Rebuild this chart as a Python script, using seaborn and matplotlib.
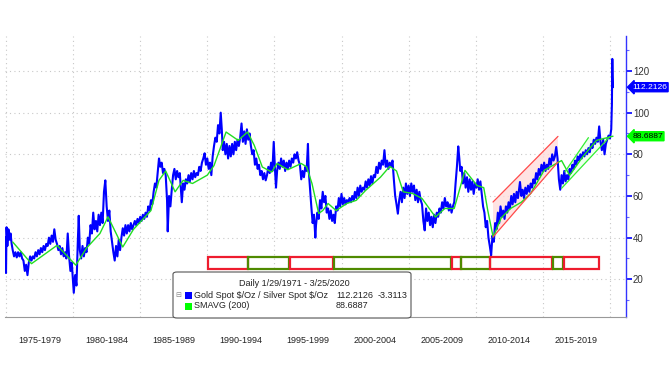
import matplotlib
matplotlib.use('Agg')
import matplotlib.pyplot as plt
import matplotlib.transforms as mtransforms
from matplotlib.patches import Rectangle, Polygon, FancyBboxPatch
import numpy as np
import pandas as pd
import seaborn as sns

# gold / silver ratio (year, value)
ratio_year = [
    1974.95, 1975.00, 1975.04, 1975.10, 1975.18, 1975.26, 1975.34, 1975.42, 1975.50, 1975.60,
    1975.70, 1975.80, 1975.90, 1976.00, 1976.10, 1976.20, 1976.30, 1976.40, 1976.50, 1976.60,
    1976.70, 1976.80, 1976.90, 1977.00, 1977.10, 1977.20, 1977.30, 1977.40, 1977.50, 1977.60,
    1977.70, 1977.80, 1977.90, 1978.00, 1978.10, 1978.20, 1978.30, 1978.40, 1978.50, 1978.60,
    1978.70, 1978.80, 1978.90, 1979.00, 1979.10, 1979.20, 1979.30, 1979.40, 1979.50, 1979.60,
    1979.70, 1979.80, 1979.90, 1980.00, 1980.05, 1980.15, 1980.25, 1980.35, 1980.42, 1980.50,
    1980.60, 1980.70, 1980.80, 1980.90, 1981.00, 1981.10, 1981.20, 1981.30, 1981.40, 1981.50,
    1981.60, 1981.70, 1981.80, 1981.90, 1982.00, 1982.10, 1982.20, 1982.30, 1982.40, 1982.50,
    1982.60, 1982.70, 1982.80, 1982.90, 1983.00, 1983.10, 1983.20, 1983.30, 1983.40, 1983.50,
    1983.60, 1983.70, 1983.80, 1983.90, 1984.00, 1984.10, 1984.20, 1984.30, 1984.40, 1984.50,
    1984.60, 1984.70, 1984.80, 1984.90, 1985.00, 1985.10, 1985.20, 1985.30, 1985.40, 1985.50,
    1985.60, 1985.70, 1985.80, 1985.90, 1986.00, 1986.10, 1986.20, 1986.30, 1986.40, 1986.50,
    1986.60, 1986.70, 1986.80, 1986.90, 1987.00, 1987.05, 1987.15, 1987.25, 1987.35, 1987.45,
    1987.55, 1987.65, 1987.75, 1987.85, 1987.95, 1988.05, 1988.10, 1988.20, 1988.30, 1988.40,
    1988.50, 1988.60, 1988.70, 1988.80, 1988.90, 1989.00, 1989.10, 1989.20, 1989.30, 1989.40,
    1989.50, 1989.60, 1989.70, 1989.80, 1989.90, 1990.00, 1990.10, 1990.20, 1990.30, 1990.40,
    1990.50, 1990.60, 1990.70, 1990.80, 1990.90, 1991.00, 1991.08, 1991.15, 1991.25, 1991.35,
    1991.45, 1991.55, 1991.65, 1991.75, 1991.85, 1991.95, 1992.05, 1992.15, 1992.25, 1992.35,
    1992.45, 1992.55, 1992.65, 1992.75, 1992.85, 1992.95, 1993.05, 1993.15, 1993.25, 1993.35,
    1993.45, 1993.55, 1993.65, 1993.75, 1993.85, 1993.95, 1994.05, 1994.15, 1994.25, 1994.35,
    1994.45, 1994.55, 1994.65, 1994.75, 1994.85, 1994.95, 1995.05, 1995.12, 1995.20, 1995.30,
    1995.40, 1995.50, 1995.60, 1995.70, 1995.80, 1995.90, 1996.00, 1996.10, 1996.20, 1996.30,
    1996.40, 1996.50, 1996.60, 1996.70, 1996.80, 1996.90, 1997.00, 1997.10, 1997.20, 1997.30,
    1997.40, 1997.50, 1997.55, 1997.65, 1997.75, 1997.85, 1997.95, 1998.05, 1998.10, 1998.20,
    1998.30, 1998.40, 1998.50, 1998.60, 1998.70, 1998.80, 1998.90, 1999.00, 1999.10, 1999.20,
    1999.30, 1999.40, 1999.50, 1999.60, 1999.70, 1999.80, 1999.90, 2000.00, 2000.10, 2000.20,
    2000.30, 2000.40, 2000.50, 2000.60, 2000.70, 2000.80, 2000.90, 2001.00, 2001.10, 2001.20,
    2001.30, 2001.40, 2001.50, 2001.60, 2001.70, 2001.80, 2001.90, 2002.00, 2002.10, 2002.20,
    2002.30, 2002.40, 2002.50, 2002.60, 2002.70, 2002.80, 2002.90, 2003.00, 2003.10, 2003.20,
    2003.30, 2003.40, 2003.50, 2003.60, 2003.70, 2003.80, 2003.90, 2004.00, 2004.10, 2004.20,
    2004.30, 2004.40, 2004.50, 2004.60, 2004.70, 2004.80, 2004.90, 2005.00, 2005.10, 2005.20,
    2005.30, 2005.40, 2005.50, 2005.60, 2005.70, 2005.80, 2005.90, 2006.00, 2006.10, 2006.20,
    2006.30, 2006.40, 2006.50, 2006.60, 2006.70, 2006.80, 2006.90, 2007.00, 2007.10, 2007.20,
    2007.30, 2007.40, 2007.50, 2007.60, 2007.70, 2007.80, 2007.90, 2008.00, 2008.10, 2008.20,
    2008.30, 2008.40, 2008.50, 2008.60, 2008.70, 2008.78, 2008.85, 2008.95, 2009.05, 2009.15,
    2009.25, 2009.35, 2009.45, 2009.55, 2009.65, 2009.75, 2009.85, 2009.95, 2010.05, 2010.15,
    2010.25, 2010.35, 2010.45, 2010.55, 2010.65, 2010.75, 2010.85, 2010.95, 2011.05, 2011.15,
    2011.25, 2011.35, 2011.45, 2011.55, 2011.65, 2011.75, 2011.85, 2011.95, 2012.05, 2012.15,
    2012.25, 2012.35, 2012.45, 2012.55, 2012.65, 2012.75, 2012.85, 2012.95, 2013.05, 2013.15,
    2013.30, 2013.40, 2013.50, 2013.60, 2013.70, 2013.80, 2013.90, 2014.00, 2014.10, 2014.20,
    2014.30, 2014.40, 2014.50, 2014.60, 2014.70, 2014.80, 2014.90, 2015.00, 2015.10, 2015.20,
    2015.30, 2015.40, 2015.50, 2015.60, 2015.70, 2015.80, 2015.90, 2016.00, 2016.10, 2016.20,
    2016.30, 2016.40, 2016.50, 2016.60, 2016.70, 2016.80, 2016.90, 2017.00, 2017.10, 2017.20,
    2017.30, 2017.40, 2017.50, 2017.60, 2017.70, 2017.80, 2017.90, 2018.00, 2018.10, 2018.20,
    2018.30, 2018.40, 2018.50, 2018.60, 2018.70, 2018.80, 2018.90, 2019.00, 2019.10, 2019.20,
    2019.30, 2019.40, 2019.50, 2019.60, 2019.70, 2019.80, 2019.90, 2020.00, 2020.05, 2020.10,
    2020.15, 2020.18, 2020.20, 2020.23,
]
ratio_value = [
    40, 23, 45, 36, 44, 39, 42, 37, 34, 31,
    33, 30.5, 33, 31, 33, 30, 29, 24, 27, 22,
    28, 31, 29, 31, 30, 33, 31, 34, 32, 35,
    33, 36, 34, 37, 36, 40, 37, 41, 38, 44,
    39, 37, 34, 36, 32, 35, 31, 33, 30, 42,
    31, 24, 28, 18, 13.5, 22, 17, 38, 50.5, 34,
    30, 36, 31, 35, 33, 40, 37, 46, 42, 52,
    44, 48, 43, 51, 46, 52, 47, 62, 67.5, 55,
    48, 53, 43, 38, 33, 29, 36, 31, 39, 34,
    40, 44.5, 41, 46, 42, 46, 43, 47, 44, 46,
    48, 46, 49, 47, 50, 48, 51, 49, 52, 50,
    55, 53, 58, 56, 62, 66, 64, 71, 78, 74,
    76, 71, 73, 70, 58, 43, 60, 55, 63, 70,
    73, 68, 72, 69, 71, 62, 57, 66, 63, 68,
    66, 70, 67, 71, 68, 72, 69, 71, 70, 74,
    72, 76, 78, 80.5, 75, 78, 73, 76, 70, 79,
    84, 88, 86, 94, 90, 100, 92, 82, 86, 80,
    85, 78, 84, 79, 85, 80, 86, 82, 87, 84,
    88, 94.8, 86, 91, 85, 92, 87, 90, 84, 80,
    82, 75, 78, 73, 75, 70, 72, 68, 71, 67.5,
    70, 74, 71, 76, 72, 86, 72, 64, 72, 76,
    73, 78, 74, 77, 72, 76, 73, 77, 74, 78,
    76, 80, 78, 81, 77, 75, 68, 72, 69, 74,
    72, 85, 73, 64, 55, 47, 51, 40, 46, 52,
    49, 58, 54, 62, 57, 60, 52, 54, 49, 53,
    48, 51, 47, 55, 53, 59, 55, 61, 56, 59,
    56, 58, 57, 59, 57, 60, 58, 62, 59, 64,
    60, 65, 62, 64, 63, 67, 64, 68, 65, 69.5,
    66, 70, 69, 74, 71, 76, 73, 77, 75, 82,
    74, 77, 73, 76, 74, 77, 68, 60, 56, 51.5,
    58, 62, 57, 64, 59, 66, 61, 65, 60, 66,
    62, 65, 58, 63, 57, 62, 58, 56, 48, 43.5,
    54, 48, 52, 46, 50, 45, 51, 47, 52, 50,
    54, 52, 57, 54, 59, 55, 57, 53, 56, 52,
    55, 57, 66, 74, 83.8, 78, 72, 74, 66, 71,
    64, 69, 62, 68, 63, 67, 61, 66, 64, 68,
    63, 67, 61, 55, 52, 45, 48, 40, 36, 31.5,
    41, 38, 47, 44, 52, 47, 55, 50, 53, 49,
    55, 52, 57, 54, 60, 56, 61, 57, 62, 59,
    66.7, 60, 63, 59, 64, 61, 65, 62, 66, 64,
    68, 66, 71, 68, 73, 70, 75, 72, 76, 72,
    75, 73, 78, 75, 80, 77, 79, 83.5, 78, 68,
    63, 70, 66, 72, 67, 70, 68, 73, 71, 75,
    73, 77, 75, 79, 77, 80, 78, 81, 79, 82,
    80, 83, 81, 85, 83, 87, 85, 88, 86, 93.4,
    86, 82, 87, 80, 85, 87, 89, 87.6, 90, 92,
    104, 125.8, 118, 112.2126,
]

# 200-day moving average
sma_year = [
    1975.5, 1976.9, 1978.8, 1980.2, 1981.0, 1982.0, 1982.6, 1983.7, 1984.5, 1985.8,
    1986.4, 1986.9, 1987.6, 1988.2, 1988.9, 1990.0, 1990.5, 1991.4, 1992.3, 1993.0,
    1993.5, 1994.1, 1994.8, 1995.2, 1996.0, 1997.0, 1997.4, 1997.8, 1998.3, 1998.6,
    1999.0, 1999.6, 2000.4, 2001.1, 2001.8, 2002.9, 2003.6, 2004.1, 2004.6, 2005.3,
    2006.0, 2007.0, 2007.7, 2008.4, 2009.2, 2010.1, 2010.6, 2010.9, 2011.3, 2011.9,
    2012.6, 2013.4, 2014.1, 2015.1, 2016.2, 2016.4, 2017.0, 2018.0, 2019.0, 2020.23,
]
sma_value = [
    37.9, 27.5, 36.3, 26.8, 35, 42, 50, 35.5, 44, 53,
    67.5, 72, 62, 67.5, 66, 70, 74.6, 90.7, 86.7, 90.7,
    84.3, 73.9, 71.5, 75.6, 72.6, 75.6, 74, 66, 51.6, 53,
    56.4, 53, 56.4, 57.9, 62.7, 69, 74.2, 72, 62, 61.2,
    58.8, 49.9, 54, 54, 72.3, 65, 64, 53, 40.3, 49.5,
    54, 57, 61.2, 72.3, 76.3, 77, 69.9, 79, 86.7, 88.6887,
]

period_labels = ['1975-1979', '1980-1984', '1985-1989', '1990-1994', '1995-1999',
                 '2000-2004', '2005-2009', '2010-2014', '2015-2019']
period_starts = [1975, 1980, 1985, 1990, 1995, 2000, 2005, 2010, 2015]

# coloured regime boxes along the bottom (start, end, kind)
box_start = [1990.07, 1993.05, 1996.15, 1999.42, 2008.2, 2008.9, 2011.1, 2015.74, 2016.57]
box_end = [1993.0, 1996.08, 1999.36, 2008.16, 2008.87, 2011.05, 2015.71, 2016.53, 2019.22]
box_kind = ['red', 'green', 'red', 'green', 'red', 'green', 'red', 'green', 'red']

# trend channels (x0, x1, y0, y1)
red_lower = [2011.29, 2016.13, 40.3, 76.3]
red_upper = [2011.29, 2016.13, 57.1, 88.6]
green_lower = [2016.4, 2020.0, 63.7, 88.5]
green_upper = [2016.65, 2018.4, 71.6, 88.0]

last_ratio = 112.2126
last_chg = -3.3113
last_sma = 88.6887

sns.set_style('white')
plt.rcParams['font.family'] = ['Liberation Sans', 'DejaVu Sans']

fig = plt.figure(figsize=(6.7, 3.77), dpi=100)
ax = fig.add_axes([5 / 670, 1 - 317 / 377, 621 / 670, 281 / 377])

df = pd.DataFrame({'year': ratio_year, 'ratio': ratio_value})
sma = pd.DataFrame({'year': sma_year, 'sma': sma_value})
sns.lineplot(data=sma, x='year', y='sma', ax=ax, color='#22dd22', lw=1.0, zorder=4)
sns.lineplot(data=df, x='year', y='ratio', ax=ax, color='#0000ff', lw=1.5,
             estimator=None, sort=False, zorder=3)

ax.set_xlim(1974.925, 2021.2)
ax.set_ylim(1.9, 136.8)
ax.set_xlabel('')
ax.set_ylabel('')

# channels
ax.add_patch(Polygon([[red_lower[0], red_lower[2]], [red_lower[1], red_lower[3]],
                      [red_upper[1], red_upper[3]], [red_upper[0], red_upper[2]]],
                     closed=True, fc='#ffdcdc', ec='none', alpha=0.8, zorder=2))
ax.plot(red_lower[:2], red_lower[2:], color='#ff4a4a', lw=0.9, zorder=5)
ax.plot(red_upper[:2], red_upper[2:], color='#ff4a4a', lw=0.9, zorder=5)
ax.add_patch(Polygon([[green_lower[0], green_lower[2]], [green_lower[1], green_lower[3]],
                      [green_upper[1], green_upper[3]], [green_upper[0], green_upper[2]]],
                     closed=True, fc='#eaffea', ec='none', alpha=0.8, zorder=2))
ax.plot(green_lower[:2], green_lower[2:], color='#33ee33', lw=0.9, zorder=5)
ax.plot(green_upper[:2], green_upper[2:], color='#33ee33', lw=0.9, zorder=5)

# regime boxes
box_colors = {'red': '#ee1c2e', 'green': '#4f8a00'}
for s, e, k in zip(box_start, box_end, box_kind):
    ax.add_patch(Rectangle((s, 25), e - s, 5.5, fill=False, ec=box_colors[k],
                           lw=1.6, zorder=6))

# axes styling
for side in ['top', 'left']:
    ax.spines[side].set_visible(False)
ax.spines['right'].set_color('#3333ff')
ax.spines['right'].set_linewidth(1.0)
ax.spines['bottom'].set_color('#999999')
ax.spines['bottom'].set_linewidth(0.8)

ax.yaxis.tick_right()
ax.set_yticks([20, 40, 60, 80, 100, 120])
ax.set_yticks(np.arange(10, 135, 10), minor=True)
ax.tick_params(axis='y', which='major', colors='#0000ff', length=4, width=1.2,
               labelsize=7, labelcolor='#333333', pad=1)
ax.tick_params(axis='y', which='minor', colors='#6666ff', length=2.5, width=0.8)

ax.set_xticks(period_starts + [2020])
ax.set_xticks(np.arange(1975, 2022, 1), minor=True)
ax.tick_params(axis='x', which='major', length=21, width=0.8, color='#aaaaaa',
               labelbottom=False)
ax.tick_params(axis='x', which='minor', length=2.5, width=0.6, color='#777777')

ax.grid(True, which='major', ls=(0, (1, 3)), color='#c8c8c8', lw=0.8)

trans = mtransforms.blended_transform_factory(ax.transData, ax.transAxes)
for s, lab in zip(period_starts, period_labels):
    ax.text(s + 2.5, -0.082, lab, transform=trans, ha='center', va='center',
            fontsize=6.5, color='#222222')

# last-value tags
ytrans = mtransforms.blended_transform_factory(ax.transAxes, ax.transData)
ax.text(1.01, last_ratio, f'{last_ratio:.4f}', transform=ytrans, ha='left', va='center',
        fontsize=6.1, color='white', clip_on=False,
        bbox=dict(boxstyle='larrow,pad=0.12', fc='#0000ff', ec='#0000ff'))
ax.text(1.01, last_sma, f'{last_sma:.4f}', transform=ytrans, ha='left', va='center',
        fontsize=6.1, color='black', clip_on=False,
        bbox=dict(boxstyle='larrow,pad=0.12', fc='#00ff00', ec='#00ff00'))

# legend panel
box = FancyBboxPatch((173 / 670, 1 - 318 / 377), 238 / 670, 46 / 377,
                     boxstyle='round,pad=0,rounding_size=0.006', transform=fig.transFigure,
                     fc='white', ec='#555555', lw=0.8, zorder=10)
fig.patches.append(box)
fig.text(294 / 670, 1 - 284 / 377, 'Daily 1/29/1971 - 3/25/2020', ha='center',
         va='center', fontsize=6.5, color='#222222', zorder=11)
fig.text(178 / 670, 1 - 295 / 377, '\u229f', ha='center', va='center', fontsize=5,
         color='#888888', family='DejaVu Sans', zorder=11)
fig.patches.append(Rectangle((185 / 670, 1 - 299 / 377), 7 / 670, 7 / 377,
                             transform=fig.transFigure, fc='#0000ff', ec='none', zorder=11))
fig.patches.append(Rectangle((185 / 670, 1 - 310 / 377), 7 / 670, 7 / 377,
                             transform=fig.transFigure, fc='#00ff00', ec='none', zorder=11))
fig.text(194 / 670, 1 - 295 / 377, r'Gold Spot \$/Oz / Silver Spot \$/Oz', ha='left',
         va='center', fontsize=6.5, color='#222222', zorder=11)
fig.text(336 / 670, 1 - 295 / 377, f'{last_ratio:.4f}', ha='left', va='center',
         fontsize=6.5, color='#222222', zorder=11)
fig.text(378 / 670, 1 - 295 / 377, f'{last_chg:.4f}', ha='left', va='center',
         fontsize=6.5, color='#222222', zorder=11)
fig.text(194 / 670, 1 - 306 / 377, 'SMAVG (200)', ha='left', va='center',
         fontsize=6.5, color='#222222', zorder=11)
fig.text(336 / 670, 1 - 306 / 377, f'{last_sma:.4f}', ha='left', va='center',
         fontsize=6.5, color='#222222', zorder=11)

fig.savefig('out.png', dpi=100)
